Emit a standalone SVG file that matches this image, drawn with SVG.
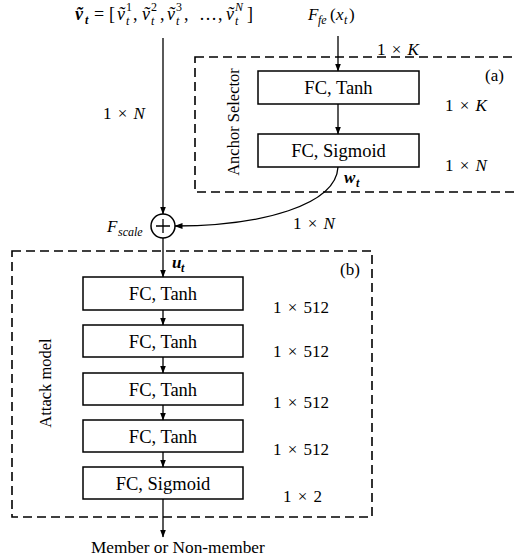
<svg xmlns="http://www.w3.org/2000/svg" width="517" height="559" viewBox="0 0 517 559">
<style>
.box{fill:#fff;stroke:#000;stroke-width:1.5}
.dash{fill:none;stroke:#000;stroke-width:1.6;stroke-dasharray:9 5}
.line{fill:none;stroke:#000;stroke-width:1.3}
.lbl{font-family:"Liberation Serif",serif;font-size:18.5px;fill:#000;text-anchor:middle}
.rot{font-family:"Liberation Serif",serif;font-size:16.5px;fill:#000;text-anchor:middle}
.m{font-family:"Liberation Serif",serif;font-size:17px;fill:#000}
.f{font-family:"Liberation Serif",serif;font-size:18px;fill:#000}
.d{word-spacing:2px}
.it{font-style:italic}
.bi{font-style:italic;font-weight:bold}
.s{font-size:12px}
.ss{font-size:12px}
</style>
<defs>
<marker id="ah" markerWidth="8" markerHeight="6" refX="7.5" refY="3" orient="auto" markerUnits="userSpaceOnUse">
<path d="M0,0 L8,3 L0,6 z" fill="#000"/>
</marker>
</defs>

<g id="frame-a">
<rect class="dash" x="195" y="57" width="330" height="135"/>
<text class="m" x="485" y="81">(a)</text>
<text class="rot" transform="translate(239,122) rotate(-90)">Anchor Selector</text>
</g>
<g id="frame-b">
<rect class="dash" x="12" y="251" width="360" height="266"/>
<text class="m" x="340" y="275">(b)</text>
<text class="rot" transform="translate(51,383) rotate(-90)">Attack model</text>
</g>

<g id="input-v">
<text class="f"><tspan class="bi" x="75" y="20">ṽ</tspan><tspan class="bi s" x="85" y="24">t</tspan><tspan x="94" y="20">=</tspan><tspan x="109" y="20">[</tspan><tspan class="it" x="117" y="20">ṽ</tspan><tspan class="ss" x="126" y="11">1</tspan><tspan class="it ss" x="126" y="25">t</tspan><tspan x="133" y="20">,</tspan><tspan class="it" x="142" y="20">ṽ</tspan><tspan class="ss" x="151" y="11">2</tspan><tspan class="it ss" x="151" y="25">t</tspan><tspan x="160" y="20">,</tspan><tspan class="it" x="167" y="20">ṽ</tspan><tspan class="ss" x="176" y="11">3</tspan><tspan class="it ss" x="176" y="25">t</tspan><tspan x="184" y="20">,</tspan><tspan x="199" y="20">…</tspan><tspan x="218" y="20">,</tspan><tspan class="it" x="226" y="20">ṽ</tspan><tspan class="it ss" x="235" y="11">N</tspan><tspan class="it ss" x="235" y="25">t</tspan><tspan x="247" y="20">]</tspan></text>
</g>
<g id="input-f">
<text class="m"><tspan class="it" x="308" y="20">F</tspan><tspan class="it s" x="318" y="24">fe</tspan><tspan x="330" y="20">(</tspan><tspan class="it" x="336" y="20">x</tspan><tspan class="it s" x="344" y="24">t</tspan><tspan x="349" y="20">)</tspan></text>
</g>

<g id="fc-tanh-a">
<rect class="box" x="258" y="71" width="161" height="33"/>
<text class="lbl" x="338.5" y="94">FC, Tanh</text>
</g>
<g id="fc-sigmoid-a">
<rect class="box" x="258" y="134" width="161" height="33"/>
<text class="lbl" x="338.5" y="157">FC, Sigmoid</text>
</g>

<g id="fscale">
<circle cx="163" cy="226" r="12" fill="#fff" stroke="#000" stroke-width="1.5"/>
<path class="line" d="M156,226 H170 M163,219 V233"/>
<text class="m"><tspan class="it" x="107" y="232">F</tspan><tspan class="it s" x="118" y="236">scale</tspan></text>
</g>

<g id="fc1">
<rect class="box" x="83" y="277" width="160" height="33"/>
<text class="lbl" x="163" y="300">FC, Tanh</text>
</g>
<g id="fc2">
<rect class="box" x="83" y="325" width="160" height="32"/>
<text class="lbl" x="163" y="348">FC, Tanh</text>
</g>
<g id="fc3">
<rect class="box" x="83" y="373" width="160" height="32"/>
<text class="lbl" x="163" y="396">FC, Tanh</text>
</g>
<g id="fc4">
<rect class="box" x="83" y="420" width="160" height="32"/>
<text class="lbl" x="163" y="443">FC, Tanh</text>
</g>
<g id="fc5">
<rect class="box" x="83" y="467" width="160" height="32"/>
<text class="lbl" x="163" y="490">FC, Sigmoid</text>
</g>

<g id="output">
<text class="m" x="91" y="553" style="font-size:17.3px">Member or Non-member</text>
</g>

<g id="connectors">
<path class="line" d="M338,36 V71" marker-end="url(#ah)"/>
<path class="line" d="M338,104 V134" marker-end="url(#ah)"/>
<path class="line" d="M163,38 V214" marker-end="url(#ah)"/>
<path class="line" d="M338,167 C336,205 262,226 175,226" marker-end="url(#ah)"/>
<path class="line" d="M163,238 V277" marker-end="url(#ah)"/>
<path class="line" d="M163,310 V325" marker-end="url(#ah)"/>
<path class="line" d="M163,357 V373" marker-end="url(#ah)"/>
<path class="line" d="M163,405 V420" marker-end="url(#ah)"/>
<path class="line" d="M163,452 V467" marker-end="url(#ah)"/>
<path class="line" d="M163,499 V537" marker-end="url(#ah)"/>
</g>

<g id="dims">
<text class="m d"><tspan x="377" y="55">1 × </tspan><tspan class="it">K</tspan></text>
<text class="m d"><tspan x="445" y="111">1 × </tspan><tspan class="it">K</tspan></text>
<text class="m d"><tspan x="445" y="171">1 × </tspan><tspan class="it">N</tspan></text>
<text class="m d"><tspan x="103" y="119">1 × </tspan><tspan class="it">N</tspan></text>
<text class="m d"><tspan x="293" y="229">1 × </tspan><tspan class="it">N</tspan></text>
<text class="m"><tspan class="bi" x="344" y="183">w</tspan><tspan class="bi s" x="356" y="187">t</tspan></text>
<text class="m"><tspan class="bi" x="172" y="268">u</tspan><tspan class="bi s" x="181" y="272">t</tspan></text>
<text class="m d" x="273" y="313">1 × 512</text>
<text class="m d" x="273" y="357">1 × 512</text>
<text class="m d" x="273" y="408">1 × 512</text>
<text class="m d" x="273" y="455">1 × 512</text>
<text class="m d" x="283" y="502">1 × 2</text>
</g>
</svg>
